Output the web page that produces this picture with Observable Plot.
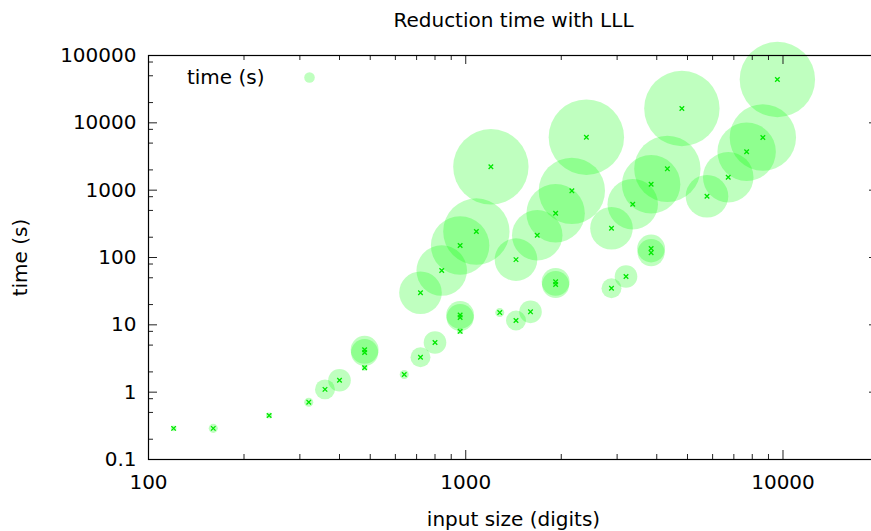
<!DOCTYPE html>
<html>
<head>
<meta charset="utf-8">
<script src="https://cdn.jsdelivr.net/npm/d3@7"></script>
<script src="https://cdn.jsdelivr.net/npm/@observablehq/plot@0.6"></script>
<style>
  html, body { margin: 0; padding: 0; background: #fff; overflow: hidden; }
  #chart svg { display: block; max-width: none !important; }
</style>
</head>
<body>
<div id="chart"></div>
<script>
// ---- data ----
const inputSize = [120, 160, 240, 320, 360, 400, 480, 480, 480, 640, 720, 800,
  720, 960, 960, 960, 840, 960, 1080, 1200, 1440, 1680, 1920, 2160, 2400,
  1920, 1920, 1280, 1440, 1600, 2880, 3360, 3840, 4320, 4800,
  5760, 6720, 7680, 8640, 9600, 3840, 3840, 2880, 3200];
const timeSec = [0.29, 0.29, 0.45, 0.71, 1.1, 1.5, 4.26, 3.88, 2.3, 1.83, 3.3, 5.46,
  30, 14.0, 12.85, 8.0, 64, 151, 243, 2223, 93, 214, 455, 978, 6120,
  43.5, 39.7, 15.2, 11.6, 15.6, 272, 619, 1222, 2075, 16330,
  813, 1557, 3714, 6058, 44010, 136, 118, 35, 52.2];
const bubbleSize = [0.75, 1.2, 0.8, 1.2, 2.65, 3.0, 3.7, 3.6, 0.8, 1.2, 2.65, 3.0,
  5.65, 3.7, 3.6, 0.8, 6.7, 7.75, 8.8, 10, 5.65, 6.7, 7.75, 8.8, 10,
  3.7, 3.6, 1.2, 2.65, 3.0, 5.65, 6.7, 7.75, 8.8, 10,
  5.65, 6.7, 7.75, 8.8, 10, 3.7, 3.6, 2.65, 3.0];

const xMajor = [100, 1000, 10000];
const xTickLabels = ["100", "1000", "10000"];
const yMajor = [0.1, 1, 10, 100, 1000, 10000, 100000];
const yTickLabels = ["0.1", "1", "10", "100", "1000", "10000", "100000"];
const xMinor = [200, 300, 400, 500, 600, 700, 800, 900,
  2000, 3000, 4000, 5000, 6000, 7000, 8000, 9000];
const yMinor = [0.2, 0.5, 0.8, 2, 5, 8, 20, 50, 80, 200, 500, 800,
  2000, 5000, 8000, 20000, 50000, 80000];

const title = "Reduction time with LLL";
const xLabel = "input size (digits)";
const yLabel = "time (s)";
const legendLabel = "time (s)";

const rows = inputSize.map((x, i) => ({x, y: timeSec[i], s: bubbleSize[i]}));

const FS = 20;
const frameW = 730, frameH = 404;

const chart = Plot.plot({
  width: 880,
  height: 531,
  marginLeft: 148,
  marginRight: 2,
  marginTop: 55,
  marginBottom: 72,
  x: {type: "log", domain: [100, 20000], axis: null},
  y: {type: "log", domain: [0.1, 100000], axis: null},
  r: {type: "linear", domain: [0, 10], range: [0, 37.7]},
  style: {fontFamily: "'DejaVu Sans', sans-serif", background: "white", overflow: "visible", maxWidth: "none"},
  marks: [
    // bubbles
    Plot.dot(rows, {x: "x", y: "y", r: "s", fill: "#00ff00", fillOpacity: 0.25, stroke: null, sort: null}),
    // centre crosses
    Plot.dot(rows, {x: "x", y: "y", r: 2.2, symbol: "times", stroke: "#00e800", strokeWidth: 1.3}),
    // ticks (inward, mirrored)
    Plot.ruleX(xMajor, {x: d => d, insetTop: frameH - 9, stroke: "#222"}),
    Plot.ruleX(xMajor, {x: d => d, insetBottom: frameH - 9, stroke: "#222"}),
    Plot.ruleX(xMinor, {x: d => d, insetTop: frameH - 5, stroke: "#222"}),
    Plot.ruleX(xMinor, {x: d => d, insetBottom: frameH - 5, stroke: "#222"}),
    Plot.ruleY(yMajor, {y: d => d, insetRight: frameW - 9, stroke: "#222"}),
    Plot.ruleY(yMajor, {y: d => d, insetLeft: frameW - 9, stroke: "#222"}),
    Plot.ruleY(yMinor, {y: d => d, insetRight: frameW - 5, stroke: "#222"}),
    Plot.ruleY(yMinor, {y: d => d, insetLeft: frameW - 5, stroke: "#222"}),
    Plot.frame({stroke: "black", strokeWidth: 1.2}),
    // tick labels
    Plot.text(xMajor, {x: d => d, frameAnchor: "bottom", lineAnchor: "middle", dy: 23, text: (d, i) => xTickLabels[i], fontSize: FS, fill: "black"}),
    Plot.text(yMajor, {y: d => d, frameAnchor: "left", lineAnchor: "middle", dx: -12, textAnchor: "end", text: (d, i) => yTickLabels[i], fontSize: FS, fill: "black"}),
    // axis titles and title
    Plot.text([xLabel], {frameAnchor: "bottom", lineAnchor: "middle", dy: 60, fontSize: FS, fill: "black"}),
    Plot.text([yLabel], {frameAnchor: "left", lineAnchor: "middle", textAnchor: "middle", dx: -128, rotate: -90, fontSize: FS, fill: "black"}),
    Plot.text([title], {frameAnchor: "top", lineAnchor: "middle", dy: -35, fontSize: FS, fill: "black"}),
    // legend
    Plot.text([legendLabel], {frameAnchor: "top-left", lineAnchor: "middle", dx: 116, dy: 22, textAnchor: "end", fontSize: FS, fill: "black"}),
    Plot.dot([legendLabel], {frameAnchor: "top-left", dx: 161, dy: 22, r: 5.3, fill: "#00ff00", fillOpacity: 0.25, stroke: null})
  ]
});
document.getElementById("chart").appendChild(chart);
</script>
</body>
</html>
